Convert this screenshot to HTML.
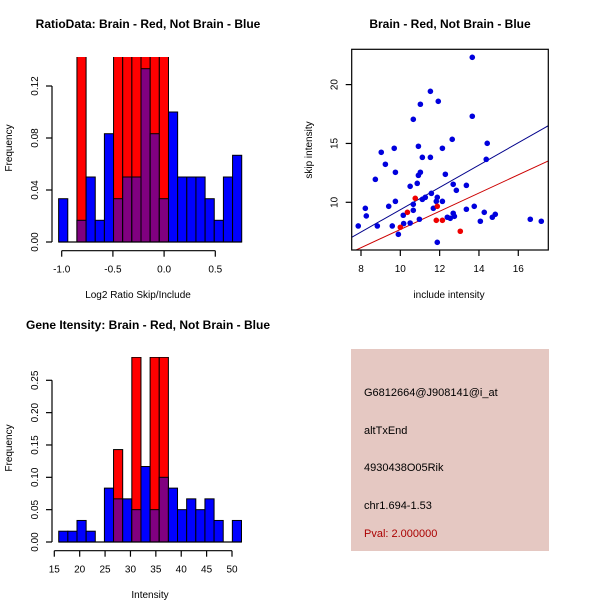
<!DOCTYPE html>
<html><head><meta charset="utf-8"><style>
html,body{margin:0;padding:0;background:#fff}
svg{display:block;font-family:"Liberation Sans",sans-serif}
</style></head><body>
<svg id="s" width="600" height="600" viewBox="0 0 600 600">
<rect width="600" height="600" fill="#fff"/>
<text x="148" y="28" font-size="12" font-weight="bold" text-anchor="middle">RatioData: Brain - Red, Not Brain - Blue</text>
<text x="450" y="28" font-size="12" font-weight="bold" text-anchor="middle">Brain - Red, Not Brain - Blue</text>
<text x="148" y="329" font-size="12" font-weight="bold" text-anchor="middle">Gene Itensity: Brain - Red, Not Brain - Blue</text>
<text x="138" y="298" font-size="10" text-anchor="middle">Log2 Ratio Skip/Include</text>
<text x="12" y="148" font-size="10" text-anchor="middle" transform="rotate(-90 12 148)">Frequency</text>
<text x="449" y="298" font-size="10" text-anchor="middle">include intensity</text>
<text x="312" y="150" font-size="10" text-anchor="middle" transform="rotate(-90 312 150)">skip intensity</text>
<text x="150" y="598" font-size="10" text-anchor="middle">Intensity</text>
<text x="12" y="448" font-size="10" text-anchor="middle" transform="rotate(-90 12 448)">Frequency</text>
<g>
<rect x="351" y="349" width="198" height="202" fill="#e5c8c2"/>
<text x="364" y="396" font-size="11">G6812664@J908141@i_at</text>
<text x="364" y="434" font-size="11">altTxEnd</text>
<text x="364" y="471" font-size="11">4930438O05Rik</text>
<text x="364" y="509" font-size="11">chr1.694-1.53</text>
<text x="364" y="537" font-size="11" fill="#aa0000">Pval: 2.000000</text>
</g>
<defs>
<clipPath id="c1"><rect x="0" y="57" width="300" height="190"/></clipPath>
<clipPath id="c2"><rect x="0" y="357" width="300" height="190"/></clipPath>
<clipPath id="c3"><rect x="351.7" y="49.3" width="196.6" height="200.7"/></clipPath>
</defs>
<g id="h1"></g>
<g id="h2"></g>
<g id="sc"></g>
</svg>
<script>
const NS="http://www.w3.org/2000/svg";
// ratio histogram data
const ratioStart=-1.03, ratioBin=0.0894;
const ratioBlue=[0.0333,0,0.0167,0.05,0.0167,0.0833,0.0333,0.05,0.05,0.1333,0.0833,0.0333,0.1,0.05,0.05,0.05,0.0333,0.0167,0.05,0.0667];
const ratioRed=[0,0,0.1429,0,0,0,0.1429,0.1429,0.1429,0.1429,0.1429,0.1429,0,0,0,0,0,0,0,0];
const ratioYTicks=[0,0.04,0.08,0.12];
const ratioYLabels=["0.00","0.04","0.08","0.12"];
const ratioXTicks=[-1.0,-0.5,0.0,0.5];
const ratioXLabels=["-1.0","-0.5","0.0","0.5"];
// intensity histogram data
const intStart=15.87, intBin=1.8;
const intBlue=[0.0167,0.0167,0.0333,0.0167,0,0.0833,0.0667,0.0667,0.05,0.1167,0.05,0.1,0.0833,0.05,0.0667,0.05,0.0667,0.0333,0,0.0333];
const intRed=[0,0,0,0,0,0,0.1429,0,0.2857,0,0.2857,0.2857,0,0,0,0,0,0,0,0];
const intYTicks=[0,0.05,0.1,0.15,0.2,0.25];
const intYLabels=["0.00","0.05","0.10","0.15","0.20","0.25"];
const intXTicks=[15,20,25,30,35,40,45,50];
// scatter data
const blueX=[7.86,8.22,8.27,8.73,8.83,9.03,9.24,9.41,9.59,9.69,9.75,9.75,9.9,10.15,10.17,10.5,10.5,10.66,10.66,10.66,10.86,10.92,10.92,11.02,10.97,11.02,11.12,11.12,11.27,11.53,11.53,11.58,11.68,11.83,11.88,11.88,11.93,12.14,12.14,12.29,12.39,12.54,12.64,12.69,12.69,12.75,12.85,13.36,13.36,13.66,13.66,13.76,14.07,14.27,14.37,14.42,14.68,14.83,16.61,17.17];
const blueY=[7.99,9.49,8.84,11.95,7.99,14.25,13.23,9.66,7.99,14.59,12.55,10.08,7.28,8.9,8.19,11.36,8.24,9.83,9.32,17.05,11.61,14.76,12.29,12.55,8.56,18.33,13.82,10.25,10.42,13.82,19.43,10.76,9.49,10.08,10.42,6.6,18.58,10.08,14.59,12.38,8.73,8.64,15.35,11.53,9.07,8.81,11.02,11.44,9.41,22.32,17.31,9.66,8.39,9.15,13.65,15.01,8.73,8.98,8.56,8.39];
const redX=[10.0,10.36,10.76,11.83,11.88,12.14,13.05];
const redY=[7.88,9.15,10.34,8.47,9.66,8.47,7.54];
const blueFit=[-0.11,0.948]; // intercept, slope
const redFit=[-0.05,0.774];
const scXTicks=[8,10,12,14,16];
const scYTicks=[10,15,20];

function el(p,t,a){const e=document.createElementNS(NS,t);for(const k in a)e.setAttribute(k,a[k]);p.appendChild(e);return e;}
function seg(p,x1,y1,x2,y2){return el(p,"path",{d:`M${x1} ${y1}L${x2} ${y2}`,stroke:"#000","stroke-width":1.2,fill:"none"});}

function hist(g,start,bin,blue,red,xs,xPx,ys,yPx,yTicks,yLabels,xt,xLabels,xAxisY,clip,pre){
  const X=v=>xPx[0]+(v-xs[0])*(xPx[1]-xPx[0])/(xs[1]-xs[0]);
  const Y=v=>yPx[0]+(v-ys[0])*(yPx[1]-yPx[0])/(ys[1]-ys[0]);
  const bars=el(g,"g",{"clip-path":clip});
  for(let i=0;i<blue.length;i++){
    const x0=X(start+i*bin),x1=X(start+(i+1)*bin);
    const b=blue[i],r=red[i];
    if(b>0){const e=el(bars,"rect",{x:x0,y:Y(b),width:x1-x0,height:Y(0)-Y(b),fill:"#0000ff",stroke:"#000","stroke-width":1});
      
      }
    if(r>0){const e=el(bars,"rect",{x:x0,y:Y(r),width:x1-x0,height:Y(0)-Y(r),fill:"#ff0000",stroke:"#000","stroke-width":1});
      
      
      const m=Math.min(b,r);
      if(m>0){const p=el(bars,"rect",{x:x0,y:Y(m),width:x1-x0,height:Y(0)-Y(m),fill:"#800080",stroke:"#000","stroke-width":1});
        
        }}
  }
  seg(g,X(start),Y(0),X(start+blue.length*bin),Y(0));
  const ax=52;
  seg(g,ax,Y(yTicks[0]),ax,Y(yTicks[yTicks.length-1]));
  yTicks.forEach((v,i)=>{const y=Y(v);seg(g,ax-6,y,ax,y);
    const t=el(g,"text",{x:ax-14,y:y,"font-size":10,"text-anchor":"middle",transform:`rotate(-90 ${ax-14} ${y})`});t.textContent=yLabels[i];
    
    });
  seg(g,X(xt[0]),xAxisY,X(xt[xt.length-1]),xAxisY);
  xt.forEach((v,i)=>{const x=X(v);seg(g,x,xAxisY,x,xAxisY+6);
    const t=el(g,"text",{x:x,y:xAxisY+22,"font-size":10,"text-anchor":"middle"});t.textContent=xLabels[i];
    
    });
}
hist(document.getElementById("h1"),ratioStart,ratioBin,ratioBlue,ratioRed,[-1,0.5],[61.7,215.3],[0,0.12],[242,86],ratioYTicks,ratioYLabels,ratioXTicks,ratioXLabels,250.7,"url(#c1)","ratio");
hist(document.getElementById("h2"),intStart,intBin,intBlue,intRed,[15,50],[54.3,232],[0,0.25],[542,380.3],intYTicks,intYLabels,intXTicks,intXTicks.map(String),550.7,"url(#c2)","int");

// scatter
const sc=document.getElementById("sc");
const SX=v=>361+(v-8)*19.66, SY=v=>202.3-(v-10)*11.77;
const L=351.7,R=548.3,T=49.3,B=250;
const pg=el(sc,"g",{"clip-path":"url(#c3)"});
function fitLine(f,col,name){const x0=(L-361)/19.66+8,x1=(R-361)/19.66+8;
  const e=el(pg,"path",{d:`M${SX(x0)} ${SY(f[0]+f[1]*x0)}L${SX(x1)} ${SY(f[0]+f[1]*x1)}`,stroke:col,"stroke-width":1,fill:"none"});
  
  }
fitLine(blueFit,"#00008b","blue-fit-line");
fitLine(redFit,"#cc0000","red-fit-line");
blueX.forEach((x,i)=>{const c=el(pg,"circle",{cx:SX(x),cy:SY(blueY[i]),r:2.8,fill:"#0000dd"});
  
  });
redX.forEach((x,i)=>{const c=el(pg,"circle",{cx:SX(x),cy:SY(redY[i]),r:2.8,fill:"#ee0000"});
  
  });
el(sc,"rect",{x:L,y:T,width:R-L,height:B-T,fill:"none",stroke:"#000","stroke-width":1.2});
scXTicks.forEach(v=>{const x=SX(v);seg(sc,x,B,x,B+6);
  const t=el(sc,"text",{x:x,y:B+22,"font-size":10,"text-anchor":"middle"});t.textContent=v;
  
  });
scYTicks.forEach(v=>{const y=SY(v);seg(sc,L-6,y,L,y);
  const t=el(sc,"text",{x:L-14,y:y,"font-size":10,"text-anchor":"middle",transform:`rotate(-90 ${L-14} ${y})`});t.textContent=v;
  
  });
</script>
</body></html>
